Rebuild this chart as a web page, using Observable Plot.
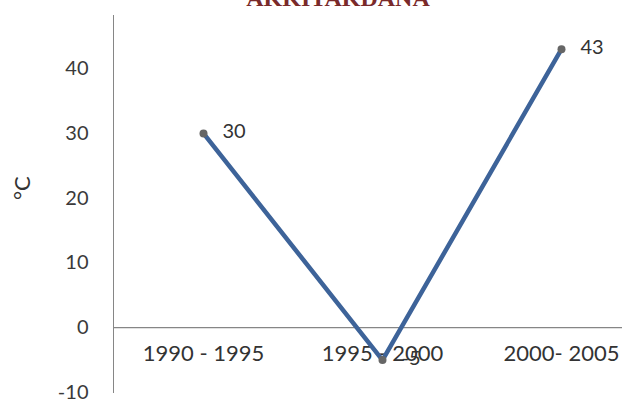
<!DOCTYPE html>
<html>
<head>
<meta charset="utf-8">
<script src="https://cdn.jsdelivr.net/npm/d3@7"></script>
<script src="https://cdn.jsdelivr.net/npm/@observablehq/plot@0.6"></script>
<style>
  html, body { margin: 0; padding: 0; background: #fff; }
  #chart svg { display: block; }
</style>
</head>
<body>
<div id="chart"></div>
<script>
const periods = ["1990 - 1995", "1995 - 2000", "2000- 2005"];
const values = [30, -5, 43];
const yTicks = [-10, 0, 10, 20, 30, 40];
const titleText = "AKKITAKDANA";
const yTitle = "°C";

const data = periods.map((p, i) => ({period: p, value: values[i]}));

const chart = Plot.plot({
  width: 622,
  height: 403,
  marginLeft: 113,
  marginRight: 0,
  marginTop: 15,
  marginBottom: 11,
  style: {fontFamily: "Lato, 'Open Sans', sans-serif", color: "#868686", background: "#fff"},
  x: {type: "point", domain: periods, range: [202.5, 560.5], padding: 0, axis: null},
  y: {domain: [-10, 48.2], ticks: yTicks, tickSize: 0, tickPadding: 25, label: null, line: true, tickFormat: d => String(d)},
  marks: [
    Plot.ruleY([0], {stroke: "#868686", strokeWidth: 1.2}),
    Plot.axisX({anchor: "bottom", tickSize: 0, tickPadding: 3, dy: -50, fontSize: 22, fill: "#333", label: null}),
    Plot.line(data, {x: "period", y: "value", stroke: "#3d6399", strokeWidth: 4.5}),
    Plot.dot(data, {x: "period", y: "value", r: 4, fill: "#666", stroke: null}),
    Plot.text(data, {x: "period", y: "value", text: d => String(d.value), dx: 19, dy: -2, textAnchor: "start", fontSize: 20, fill: "#333"}),
    Plot.text([titleText], {frameAnchor: "top", text: d => d, dx: -30, dy: -10, lineAnchor: "bottom", fontSize: 24, fontWeight: "bold", fontFamily: "'Liberation Serif', serif", fill: "#7a2a2a"}),
    Plot.text([yTitle], {frameAnchor: "left", text: d => d, dx: -91, dy: -4, rotate: -90, fontSize: 22, fill: "#333"})
  ]
});
chart.querySelectorAll('g[aria-label="y-axis tick label"] text').forEach(t => t.setAttribute("fill", "#3a3a3a"));
chart.querySelectorAll('g[aria-label="y-axis tick label"]').forEach(g => { g.setAttribute("fill", "#3a3a3a"); g.setAttribute("font-size", "20"); });
document.getElementById("chart").appendChild(chart);
</script>
</body>
</html>
